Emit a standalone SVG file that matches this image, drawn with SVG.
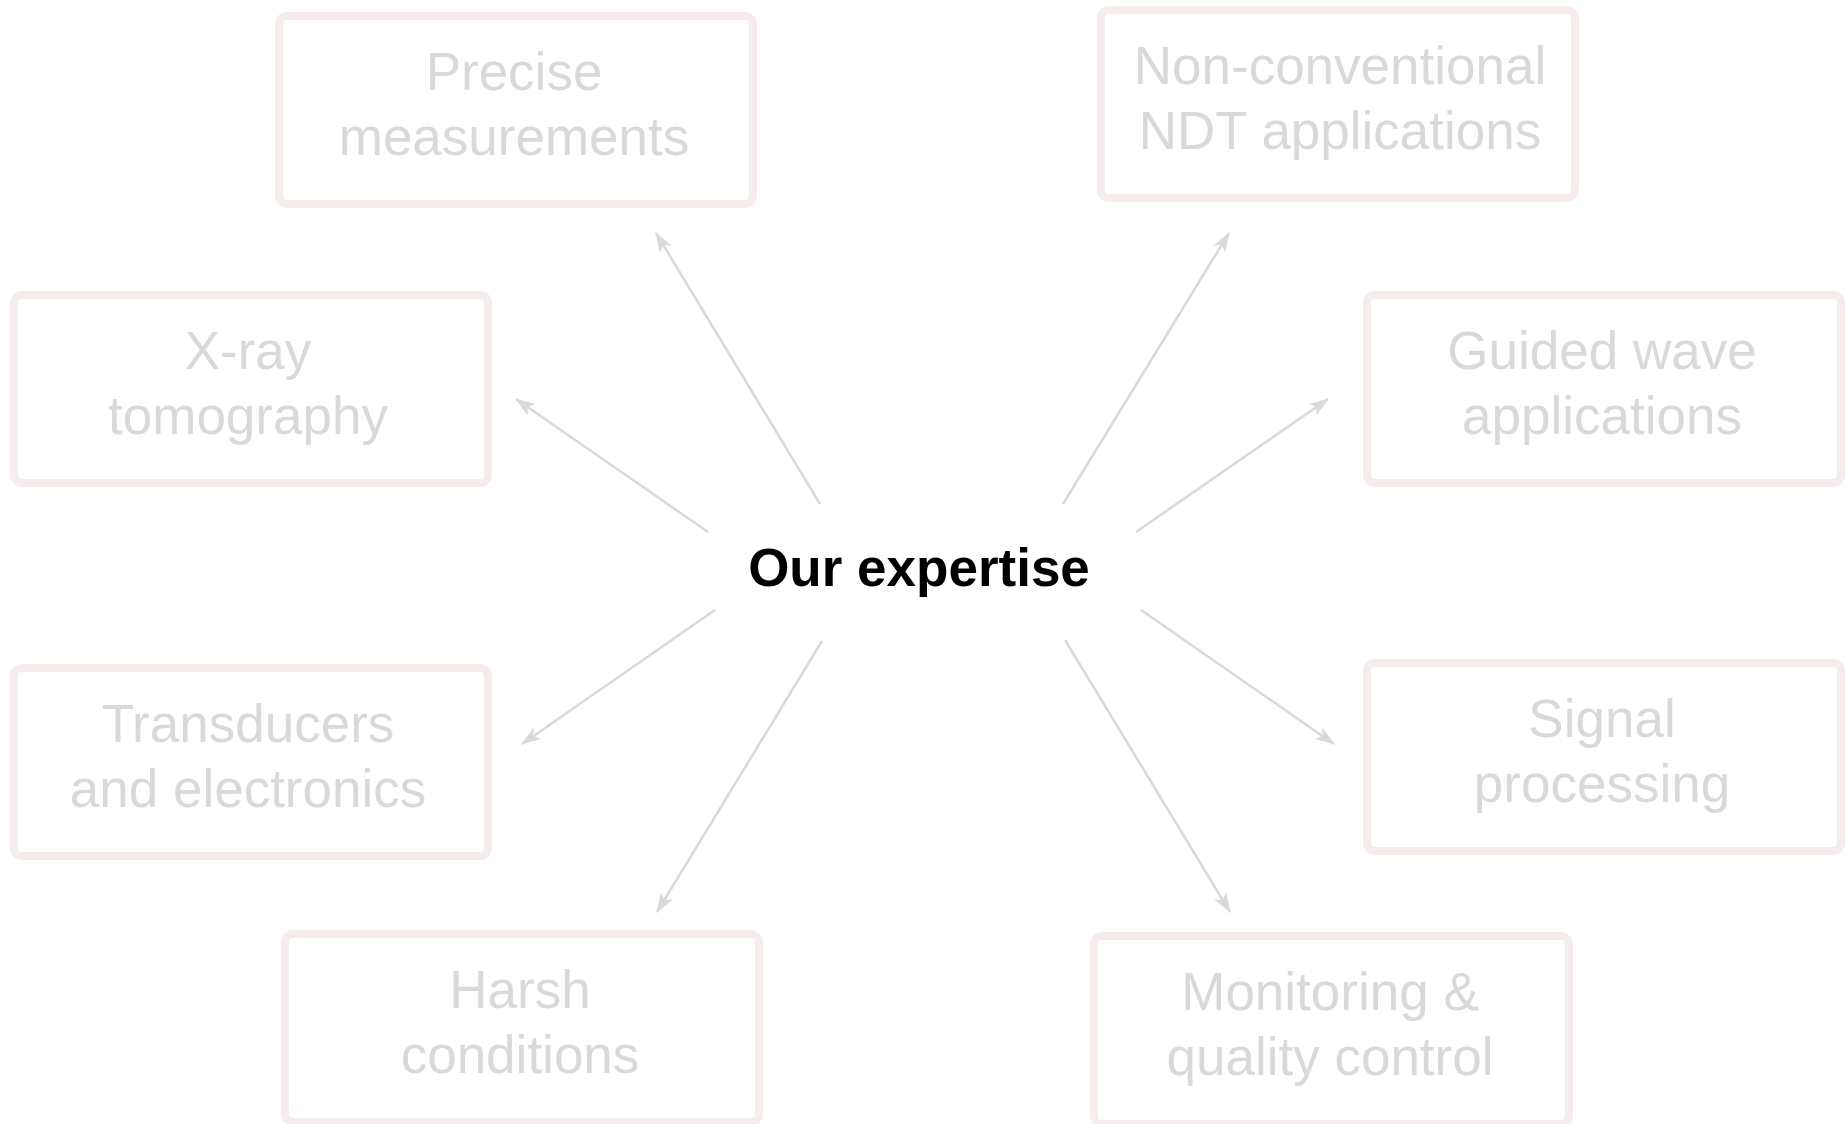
<svg xmlns="http://www.w3.org/2000/svg" width="1845" height="1124" viewBox="0 0 1845 1124">
<style>
.box{fill:#ffffff;stroke:#f6ecec;stroke-width:8}
.lbl{font-family:"Liberation Sans",Arial,sans-serif;font-size:53px;fill:#d9d9d9;text-anchor:middle}
.title{font-family:"Liberation Sans",Arial,sans-serif;font-size:53px;font-weight:bold;fill:#000000;text-anchor:middle}
.edge{fill:none;stroke:#d9d9d9;stroke-width:2.5}
</style>
<defs>
<marker id="arr" viewBox="0 0 20 14" markerWidth="20" markerHeight="14" refX="19" refY="7" orient="auto" markerUnits="userSpaceOnUse">
<path d="M0,0 L20,7 L0,14 L5,7 Z" fill="#d9d9d9"/>
</marker>
</defs>
<rect width="1845" height="1124" fill="#ffffff"/>
<g id="connectors">
<line class="edge" x1="820" y1="504" x2="656" y2="233" marker-end="url(#arr)"/>
<line class="edge" x1="708" y1="532" x2="516" y2="399" marker-end="url(#arr)"/>
<line class="edge" x1="1063" y1="504" x2="1229" y2="233" marker-end="url(#arr)"/>
<line class="edge" x1="1136" y1="532" x2="1328" y2="399" marker-end="url(#arr)"/>
<line class="edge" x1="715" y1="610" x2="522" y2="744" marker-end="url(#arr)"/>
<line class="edge" x1="822" y1="641" x2="657" y2="912" marker-end="url(#arr)"/>
<line class="edge" x1="1141" y1="610" x2="1334" y2="744" marker-end="url(#arr)"/>
<line class="edge" x1="1065" y1="640" x2="1230" y2="912" marker-end="url(#arr)"/>
</g>
<g id="center">
<text class="title" x="919" y="586">Our expertise</text>
</g>
<g id="precise">
<rect class="box" x="279" y="16" width="474" height="188" rx="8"/>
<text class="lbl" x="514" y="90">Precise</text>
<text class="lbl" x="514" y="155">measurements</text>
</g>
<g id="xray">
<rect class="box" x="14" y="295" width="474" height="188" rx="8"/>
<text class="lbl" x="248" y="369">X-ray</text>
<text class="lbl" x="248" y="434">tomography</text>
</g>
<g id="nonconv">
<rect class="box" x="1101" y="10" width="474" height="188" rx="8"/>
<text class="lbl" x="1340" y="84">Non-conventional</text>
<text class="lbl" x="1340" y="149">NDT applications</text>
</g>
<g id="guided">
<rect class="box" x="1367" y="295" width="474" height="188" rx="8"/>
<text class="lbl" x="1602" y="369">Guided wave</text>
<text class="lbl" x="1602" y="434">applications</text>
</g>
<g id="transducers">
<rect class="box" x="14" y="668" width="474" height="188" rx="8"/>
<text class="lbl" x="248" y="742">Transducers</text>
<text class="lbl" x="248" y="807">and electronics</text>
</g>
<g id="signal">
<rect class="box" x="1367" y="663" width="474" height="188" rx="8"/>
<text class="lbl" x="1602" y="737">Signal</text>
<text class="lbl" x="1602" y="802">processing</text>
</g>
<g id="harsh">
<rect class="box" x="285" y="934" width="474" height="188" rx="8"/>
<text class="lbl" x="520" y="1008">Harsh</text>
<text class="lbl" x="520" y="1073">conditions</text>
</g>
<g id="monitoring">
<rect class="box" x="1094" y="936" width="475" height="188" rx="8"/>
<text class="lbl" x="1330" y="1010">Monitoring &amp;</text>
<text class="lbl" x="1330" y="1075">quality control</text>
</g>
</svg>
